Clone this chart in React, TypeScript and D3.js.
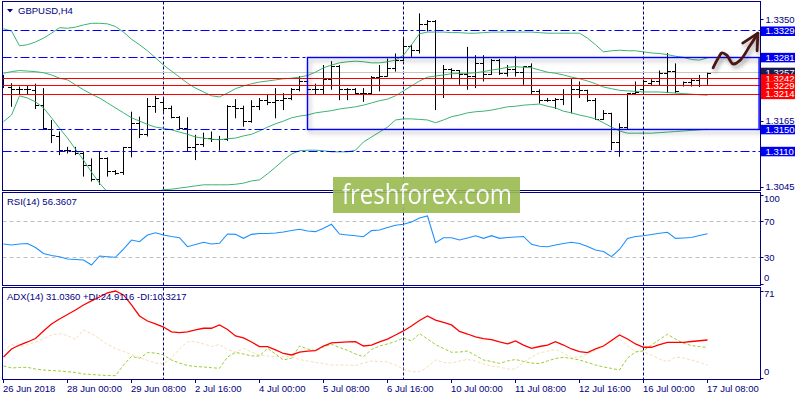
import React from 'react';
import * as d3 from 'd3';

// ---------- data ----------
const symbolTitle = 'GBPUSD,H4';
const rsiTitle = 'RSI(14) 56.3607';
const adxTitle = 'ADX(14) 31.0360 +DI:24.9116 -DI:10.3217';

const timeLabels = [
  '26 Jun 2018', '28 Jun 00:00', '29 Jun 08:00', '2 Jul 16:00', '4 Jul 00:00', '5 Jul 08:00',
  '6 Jul 16:00', '10 Jul 00:00', '11 Jul 08:00', '12 Jul 16:00', '16 Jul 00:00', '17 Jul 08:00',
];
const barsPerLabel = 8;
const weekSeparators = [20, 50, 80];

const open = [
  1.3240, 1.3227, 1.3222, 1.3223, 1.3220, 1.3194, 1.3150, 1.3137, 1.3111, 1.3110,
  1.3106, 1.3085, 1.3058, 1.3097, 1.3073, 1.3071, 1.3117, 1.3161, 1.3140, 1.3191,
  1.3198, 1.3188, 1.3172, 1.3152, 1.3116, 1.3122, 1.3134, 1.3131, 1.3131, 1.3191,
  1.3188, 1.3164, 1.3191, 1.3202, 1.3198, 1.3202, 1.3207, 1.3222, 1.3237, 1.3222,
  1.3223, 1.3240, 1.3264, 1.3222, 1.3222, 1.3216, 1.3216, 1.3245, 1.3247, 1.3261,
  1.3276, 1.3300, 1.3294, 1.3340, 1.3346, 1.3213, 1.3258, 1.3257, 1.3249, 1.3246,
  1.3269, 1.3250, 1.3275, 1.3251, 1.3258, 1.3253, 1.3264, 1.3219, 1.3202, 1.3202,
  1.3205, 1.3213, 1.3222, 1.3220, 1.3202, 1.3168, 1.3179, 1.3126, 1.3154, 1.3216,
  1.3222, 1.3233, 1.3237, 1.3252, 1.3255, 1.3230, 1.3235, 1.3239, 1.3243,
];
const high = [
  1.3249, 1.3234, 1.3228, 1.3229, 1.3233, 1.3225, 1.3167, 1.3146, 1.3118, 1.3118,
  1.3109, 1.3097, 1.3109, 1.3099, 1.3076, 1.3118, 1.3182, 1.3173, 1.3207, 1.3211,
  1.3207, 1.3193, 1.3174, 1.3172, 1.3140, 1.3144, 1.3146, 1.3138, 1.3194, 1.3205,
  1.3193, 1.3203, 1.3207, 1.3213, 1.3225, 1.3216, 1.3225, 1.3247, 1.3237, 1.3233,
  1.3267, 1.3274, 1.3267, 1.3225, 1.3225, 1.3225, 1.3247, 1.3267, 1.3279, 1.3288,
  1.3316, 1.3304, 1.3361, 1.3349, 1.3349, 1.3267, 1.3261, 1.3258, 1.3300, 1.3285,
  1.3285, 1.3278, 1.3278, 1.3267, 1.3283, 1.3264, 1.3270, 1.3223, 1.3207, 1.3207,
  1.3223, 1.3243, 1.3237, 1.3222, 1.3207, 1.3185, 1.3180, 1.3161, 1.3216, 1.3237,
  1.3240, 1.3241, 1.3257, 1.3289, 1.3270, 1.3237, 1.3243, 1.3249, 1.3253,
];
const low = [
  1.3225, 1.3191, 1.3213, 1.3213, 1.3187, 1.3150, 1.3125, 1.3103, 1.3106, 1.3103,
  1.3064, 1.3055, 1.3049, 1.3064, 1.3067, 1.3067, 1.3099, 1.3134, 1.3137, 1.3180,
  1.3182, 1.3170, 1.3149, 1.3109, 1.3094, 1.3118, 1.3127, 1.3111, 1.3129, 1.3170,
  1.3155, 1.3162, 1.3185, 1.3194, 1.3170, 1.3185, 1.3203, 1.3219, 1.3216, 1.3213,
  1.3213, 1.3222, 1.3203, 1.3203, 1.3213, 1.3200, 1.3213, 1.3219, 1.3246, 1.3255,
  1.3274, 1.3282, 1.3288, 1.3328, 1.3185, 1.3207, 1.3243, 1.3231, 1.3222, 1.3225,
  1.3237, 1.3249, 1.3249, 1.3246, 1.3246, 1.3231, 1.3213, 1.3197, 1.3200, 1.3187,
  1.3194, 1.3179, 1.3207, 1.3200, 1.3167, 1.3167, 1.3112, 1.3100, 1.3150, 1.3213,
  1.3217, 1.3229, 1.3229, 1.3216, 1.3216, 1.3228, 1.3228, 1.3227, 1.3231,
];
const close = [
  1.3229, 1.3222, 1.3223, 1.3222, 1.3194, 1.3152, 1.3138, 1.3112, 1.3112, 1.3106,
  1.3085, 1.3058, 1.3097, 1.3073, 1.3070, 1.3116, 1.3161, 1.3140, 1.3191, 1.3207,
  1.3188, 1.3172, 1.3152, 1.3116, 1.3122, 1.3134, 1.3131, 1.3131, 1.3191, 1.3188,
  1.3164, 1.3191, 1.3203, 1.3198, 1.3202, 1.3207, 1.3222, 1.3237, 1.3222, 1.3223,
  1.3240, 1.3264, 1.3222, 1.3222, 1.3216, 1.3216, 1.3245, 1.3247, 1.3261, 1.3276,
  1.3300, 1.3294, 1.3340, 1.3346, 1.3213, 1.3258, 1.3257, 1.3249, 1.3246, 1.3269,
  1.3250, 1.3275, 1.3251, 1.3258, 1.3253, 1.3264, 1.3219, 1.3202, 1.3202, 1.3205,
  1.3213, 1.3222, 1.3220, 1.3202, 1.3168, 1.3179, 1.3126, 1.3154, 1.3216, 1.3217,
  1.3237, 1.3237, 1.3252, 1.3255, 1.3219, 1.3235, 1.3239, 1.3243, 1.3252,
];

const bbUpper = [
  1.3333, 1.3329, 1.3302, 1.3304, 1.3309, 1.3316, 1.3325, 1.3335, 1.3334, 1.3336,
  1.3340, 1.3343, 1.3343, 1.3342, 1.3337, 1.3327, 1.3314, 1.3304, 1.3293, 1.3280,
  1.3267, 1.3256, 1.3245, 1.3234, 1.3225, 1.3218, 1.3211, 1.3209, 1.3216, 1.3224,
  1.3229, 1.3233, 1.3236, 1.3238, 1.3240, 1.3242, 1.3243, 1.3245, 1.3248, 1.3254,
  1.3262, 1.3267, 1.3271, 1.3273, 1.3274, 1.3273, 1.3271, 1.3271, 1.3273, 1.3276,
  1.3285, 1.3304, 1.3324, 1.3327, 1.3327, 1.3327, 1.3326, 1.3326, 1.3325, 1.3325,
  1.3326, 1.3327, 1.3327, 1.3327, 1.3327, 1.3327, 1.3327, 1.3326, 1.3325, 1.3325,
  1.3325, 1.3325, 1.3325, 1.3316, 1.3304, 1.3291, 1.3293, 1.3294, 1.3293, 1.3293,
  1.3291, 1.3289, 1.3288, 1.3286, 1.3283, 1.3281, 1.3277, 1.3276, 1.3280,
];
const bbMiddle = [
  1.3252, 1.3255, 1.3257, 1.3256, 1.3255, 1.3253, 1.3249, 1.3243, 1.3240, 1.3231,
  1.3222, 1.3214, 1.3207, 1.3198, 1.3189, 1.3180, 1.3171, 1.3165, 1.3159, 1.3154,
  1.3152, 1.3149, 1.3145, 1.3141, 1.3136, 1.3134, 1.3132, 1.3131, 1.3133, 1.3134,
  1.3138, 1.3141, 1.3147, 1.3154, 1.3160, 1.3165, 1.3171, 1.3174, 1.3176, 1.3180,
  1.3182, 1.3184, 1.3187, 1.3189, 1.3191, 1.3194, 1.3198, 1.3202, 1.3205, 1.3211,
  1.3220, 1.3229, 1.3238, 1.3245, 1.3247, 1.3249, 1.3251, 1.3252, 1.3252, 1.3253,
  1.3255, 1.3258, 1.3260, 1.3263, 1.3264, 1.3263, 1.3262, 1.3258, 1.3254, 1.3252,
  1.3249, 1.3245, 1.3242, 1.3238, 1.3233, 1.3227, 1.3224, 1.3221, 1.3220, 1.3219,
  1.3218, 1.3218, 1.3218, 1.3217, 1.3216, 1.3215, 1.3214, 1.3213, 1.3212,
];
const bbLower = [
  1.3164, 1.3176, 1.3211, 1.3207, 1.3200, 1.3189, 1.3171, 1.3152, 1.3134, 1.3114,
  1.3094, 1.3072, 1.3052, 1.3036, 1.3025, 1.3021, 1.3021, 1.3025, 1.3031, 1.3036,
  1.3040, 1.3041, 1.3043, 1.3045, 1.3047, 1.3049, 1.3049, 1.3049, 1.3049, 1.3050,
  1.3052, 1.3056, 1.3058, 1.3069, 1.3081, 1.3094, 1.3105, 1.3111, 1.3112, 1.3112,
  1.3111, 1.3109, 1.3109, 1.3109, 1.3112, 1.3127, 1.3136, 1.3145, 1.3154, 1.3167,
  1.3169, 1.3169, 1.3168, 1.3167, 1.3162, 1.3167, 1.3173, 1.3176, 1.3180, 1.3182,
  1.3183, 1.3185, 1.3188, 1.3191, 1.3192, 1.3194, 1.3195, 1.3196, 1.3192, 1.3189,
  1.3183, 1.3180, 1.3176, 1.3173, 1.3169, 1.3162, 1.3154, 1.3147, 1.3143, 1.3143,
  1.3143, 1.3143, 1.3144, 1.3145, 1.3146, 1.3147, 1.3148, 1.3149, 1.3150,
];

const rsi = [
  44.9, 43.8, 44.9, 45.5, 41.0, 34.3, 32.0, 30.7, 28.1, 27.5,
  27.0, 21.3, 31.5, 30.7, 30.0, 39.3, 49.4, 47.5, 55.1, 57.6,
  55.1, 53.4, 52.0, 41.9, 44.4, 46.9, 44.9, 45.7, 56.2, 55.8,
  51.3, 55.8, 56.7, 56.7, 57.3, 58.4, 60.1, 61.5, 59.6, 58.8,
  62.6, 67.1, 56.2, 55.1, 54.2, 53.1, 60.0, 60.7, 63.5, 66.0,
  67.1, 69.7, 74.2, 76.4, 46.4, 52.0, 52.0, 49.4, 51.7, 54.2,
  51.3, 54.3, 51.3, 52.2, 52.8, 53.4, 44.6, 42.4, 41.9, 43.8,
  45.5, 46.9, 45.5, 42.1, 38.2, 36.5, 30.7, 38.8, 51.1, 53.4,
  54.2, 55.6, 57.0, 58.1, 51.3, 51.7, 52.2, 54.5, 56.4,
];
const rsiLevels = [70, 30];
const rsiAxisLabels = [100, 70, 30, 0];

const adx = [
  17.1, 23.7, 26.9, 29.4, 32.2, 38.4, 44.1, 48.2, 51.8, 55.5,
  59.6, 62.9, 66.1, 69.4, 71.0, 67.8, 59.6, 50.6, 46.5, 44.1,
  41.6, 37.6, 37.0, 37.6, 39.2, 40.6, 40.6, 43.3, 39.6, 34.3,
  32.7, 29.4, 25.6, 25.6, 22.9, 20.0, 18.8, 21.2, 22.0, 22.4,
  26.1, 28.6, 29.0, 29.4, 29.6, 26.1, 26.9, 29.4, 31.8, 35.1,
  38.4, 42.4, 46.9, 50.6, 47.3, 45.3, 43.3, 38.0, 35.9, 33.5,
  32.2, 31.3, 29.4, 27.8, 30.2, 26.9, 24.2, 25.7, 26.9, 29.6,
  26.9, 23.7, 21.6, 20.7, 23.7, 26.1, 30.6, 35.1, 31.8, 27.8,
  25.1, 25.1, 27.3, 29.1, 29.1, 29.1, 29.8, 30.4, 31.0,
];
const plusDI = [
  9.8, 8.2, 8.6, 8.7, 7.3, 6.5, 6.1, 5.7, 5.1, 4.5,
  3.3, 2.9, 2.4, 2.0, 1.9, 10.6, 17.6, 16.1, 20.7, 20.4,
  18.8, 14.7, 12.2, 10.2, 9.4, 9.0, 8.4, 7.9, 17.1, 20.9,
  19.6, 18.0, 18.0, 24.2, 19.6, 14.7, 16.1, 26.1, 23.7, 22.3,
  25.3, 27.5, 24.9, 22.6, 19.6, 17.4, 23.3, 26.1, 27.8, 29.8,
  32.7, 30.2, 36.3, 31.8, 27.3, 24.1, 21.0, 21.2, 22.0, 18.4,
  14.7, 13.5, 12.0, 13.9, 15.1, 13.5, 12.2, 11.8, 13.9, 15.9,
  16.9, 15.9, 14.7, 12.7, 10.6, 9.0, 7.8, 6.5, 16.3, 21.2,
  22.3, 26.9, 31.4, 35.7, 31.8, 28.3, 26.5, 25.6, 24.9,
];
const minusDI = [
  22.0, 27.3, 25.7, 26.9, 29.4, 31.8, 35.1, 36.3, 34.7, 31.4,
  39.2, 36.3, 31.8, 27.3, 24.1, 21.6, 19.2, 16.7, 14.3, 12.2,
  11.4, 16.7, 23.7, 29.6, 29.6, 27.8, 25.7, 27.3, 23.3, 21.2,
  24.2, 21.2, 18.5, 18.0, 17.4, 17.4, 17.4, 15.1, 13.9, 12.7,
  11.8, 10.6, 10.6, 10.6, 10.2, 12.2, 13.9, 13.5, 13.1, 10.6,
  7.3, 5.1, 5.1, 9.0, 14.7, 12.7, 12.2, 13.9, 15.1, 13.9,
  11.4, 9.8, 9.0, 7.3, 7.3, 13.1, 17.1, 20.4, 22.0, 23.3,
  20.4, 16.7, 17.1, 19.6, 22.4, 26.1, 30.2, 32.2, 26.1, 21.5,
  21.5, 18.8, 15.5, 13.3, 17.1, 16.3, 14.7, 12.7, 10.6,
];
const adxAxisLabels = [71, 0];

const priceTicks = [1.3350, 1.3165, 1.3045];
const dashDotLevels = [1.3329, 1.3281, 1.3150, 1.3110];
const redLevels = [1.3242, 1.3214, 1.3229];
const bidPrice = 1.3254;
const bidLabel = '1.3257';
// rectangle object: [start bar, end bar (future), top price, bottom price]
const boxStartBar = 38;
const boxEndBar = 94.45;
const boxTop = 1.3281;
const boxBottom = 1.3150;
// hand-drawn arrow (bar index, price)
const arrowBars = [88.7, 89.4, 89.8, 90.4, 91.2, 92.1, 93.3, 94.3];
const arrowPrices = [1.3262, 1.3281, 1.3289, 1.3285, 1.3269, 1.3276, 1.3302, 1.3325];
const arrowHeadBars = [92.4, 94.3, 94.2];
const arrowHeadPrices = [1.3307, 1.3325, 1.3293];

// ---------- drawing ----------
const NAVY = '#000080';
const FONT = '"Liberation Sans", Arial, sans-serif';
const L = 2.5, R = 760.5;
const P1 = { top: 1.5, bottom: 190.5 };
const P2 = { top: 192.5, bottom: 285.5 };
const P3 = { top: 287.5, bottom: 379.5 };

const snap = (v: number) => Math.round(v - 0.5) + 0.5;

export default function App() {
  const n = close.length;
  const x = d3.scaleLinear().domain([0, 88]).range([3.5, 707.5]);
  const y = d3.scaleLinear().domain([1.3045, 1.3350]).range([187.0, 19.45]);
  const yR = d3.scaleLinear().domain([0, 100]).range([284, 195]);
  const yA = d3.scaleLinear().domain([0, 71]).range([378, 291]);

  const mkLine = (sc: d3.ScaleLinear<number, number>) =>
    d3.line<number>().x((_, i) => x(i)).y((d) => sc(d));
  const priceLine = mkLine(y);
  const rsiLine = mkLine(yR);
  const adxLine = mkLine(yA);

  const barsPath = d3.range(n).map((i) => {
    const xi = snap(x(i));
    const yo = snap(y(open[i]));
    const yc = snap(y(close[i]));
    return `M${xi},${y(high[i]).toFixed(1)}V${y(low[i]).toFixed(1)}M${xi - 3.5},${yo}H${xi}M${xi},${yc}H${xi + 3.5}`;
  }).join('');

  const clampLbl = (v: number, p: { top: number; bottom: number }) =>
    Math.max(p.top + 6.5, Math.min(p.bottom - 7.5, v));

  const arrowPts: [number, number][] = arrowBars.map((b, i) => [x(b), y(arrowPrices[i])]);
  const arrowPath = d3.line().curve(d3.curveCatmullRom.alpha(0.5))(arrowPts) || '';
  const headPath = d3.line()(arrowHeadBars.map((b, i) => [x(b), y(arrowHeadPrices[i])] as [number, number])) || '';

  const boxLabel = (price: number, text: string, fill: string, key: string) => (
    <g key={key}>
      <rect x={761} y={y(price) - 4.5} width={34} height={9.5} fill={fill} />
      <text x={765.5} y={y(price)} dy="0.35em" fill="#fff" fontSize={9.5} fontFamily={FONT}>{text}</text>
    </g>
  );

  const txt = { fontSize: 9.5, fontFamily: FONT, fill: NAVY } as const;

  return (
    <svg width={800} height={400} style={{ position: 'fixed', left: 0, top: 0, background: '#fff' }}>
      <defs>
        <clipPath id="c1"><rect x={L} y={P1.top} width={R - L} height={P1.bottom - P1.top} /></clipPath>
        <clipPath id="c2"><rect x={L} y={P2.top} width={R - L} height={P2.bottom - P2.top} /></clipPath>
        <clipPath id="c3"><rect x={L} y={P3.top} width={R - L} height={P3.bottom - P3.top} /></clipPath>
        <filter id="shadow" x="-5%" y="-30%" width="115%" height="170%">
          <feDropShadow dx="2" dy="3" stdDeviation="2" floodColor="#000" floodOpacity="0.35" />
        </filter>
      </defs>
      <rect x={0} y={0} width={800} height={400} fill="#fff" />

      {/* ---------- main panel ---------- */}
      <g clipPath="url(#c1)">
        {weekSeparators.map((b) => (
          <line key={b} x1={snap(x(b))} x2={snap(x(b))} y1={P1.top} y2={P1.bottom} stroke={NAVY} strokeDasharray="3,2" />
        ))}
        <line x1={L} x2={R} y1={snap(y(bidPrice))} y2={snap(y(bidPrice))} stroke="#c8c8c8" />
        <path d={barsPath} stroke="#000" strokeWidth={1} fill="none" />
        {[bbUpper, bbMiddle, bbLower].map((s, k) => (
          <path key={k} d={priceLine(s) || ''} fill="none" stroke="#3cb371" strokeWidth={1} />
        ))}
        {dashDotLevels.map((p) => (
          <line key={p} x1={L} x2={R} y1={snap(y(p))} y2={snap(y(p))} stroke="#0000ff" strokeDasharray="9,3,3,3" />
        ))}
        {redLevels.map((p) => (
          <line key={p} x1={L} x2={R} y1={snap(y(p))} y2={snap(y(p))} stroke="#ff0000" strokeWidth={1.2} />
        ))}
        <rect x={snap(x(boxStartBar))} y={snap(y(boxTop))} width={x(boxEndBar) - x(boxStartBar)}
          height={y(boxBottom) - y(boxTop)} fill="none" stroke="#0000ff" strokeWidth={1.4} filter="url(#shadow)" />
        <g filter="url(#shadow)">
          <path d={arrowPath} fill="none" stroke="#4a1414" strokeWidth={2.8} strokeLinecap="round" strokeLinejoin="round" />
          <path d={headPath} fill="none" stroke="#4a1414" strokeWidth={2.8} strokeLinecap="round" strokeLinejoin="round" />
        </g>
      </g>
      <polygon points="7,9 13,9 10,12.5" fill={NAVY} />
      <text x={18} y={14} {...txt}>{symbolTitle}</text>

      {/* price axis */}
      {priceTicks.map((p) => (
        <g key={p}>
          <line x1={R} x2={R + 3} y1={snap(y(p))} y2={snap(y(p))} stroke={NAVY} />
          <text x={765.5} y={y(p)} dy="0.35em" {...txt}>{p.toFixed(4)}</text>
        </g>
      ))}
      {boxLabel(bidPrice, bidLabel, '#1c1c50', 'bid')}
      {dashDotLevels.map((p) => boxLabel(p, p.toFixed(4), '#0000f0', 'b' + p))}
      {redLevels.map((p) => boxLabel(p, p.toFixed(4), '#ff0000', 'r' + p))}

      {/* ---------- RSI panel ---------- */}
      <g clipPath="url(#c2)">
        {weekSeparators.map((b) => (
          <line key={b} x1={snap(x(b))} x2={snap(x(b))} y1={P2.top} y2={P2.bottom} stroke={NAVY} strokeDasharray="3,2" />
        ))}
        {rsiLevels.map((v) => (
          <line key={v} x1={L} x2={R} y1={snap(yR(v))} y2={snap(yR(v))} stroke="#c0c0c0" strokeDasharray="4,3" />
        ))}
        <path d={rsiLine(rsi) || ''} fill="none" stroke="#1e90ff" strokeWidth={1.1} />
      </g>
      <text x={7} y={205} {...txt}>{rsiTitle}</text>
      {rsiAxisLabels.map((v) => (
        <g key={v}>
          <line x1={R} x2={R + 3} y1={snap(yR(v))} y2={snap(yR(v))} stroke={NAVY} />
          <text x={764} y={clampLbl(yR(v), P2)} dy="0.35em" {...txt}>{v}</text>
        </g>
      ))}

      {/* ---------- ADX panel ---------- */}
      <g clipPath="url(#c3)">
        {weekSeparators.map((b) => (
          <line key={b} x1={snap(x(b))} x2={snap(x(b))} y1={P3.top} y2={P3.bottom} stroke={NAVY} strokeDasharray="3,2" />
        ))}
        <path d={adxLine(minusDI) || ''} fill="none" stroke="#f5deb3" strokeWidth={1} strokeDasharray="3,2" />
        <path d={adxLine(plusDI) || ''} fill="none" stroke="#9acd32" strokeWidth={1} strokeDasharray="3,2" />
        <path d={adxLine(adx) || ''} fill="none" stroke="#ff0000" strokeWidth={1.3} />
      </g>
      <text x={7} y={299.5} {...txt}>{adxTitle}</text>
      {adxAxisLabels.map((v) => (
        <g key={v}>
          <line x1={R} x2={R + 3} y1={snap(yA(v))} y2={snap(yA(v))} stroke={NAVY} />
          <text x={764} y={clampLbl(yA(v), P3)} dy="0.35em" {...txt}>{v}</text>
        </g>
      ))}

      {/* ---------- panel frames ---------- */}
      {[P1, P2, P3].map((p, i) => (
        <rect key={i} x={L} y={p.top} width={R - L} height={p.bottom - p.top} fill="none" stroke={NAVY} strokeWidth={1} />
      ))}

      {/* ---------- time axis ---------- */}
      {timeLabels.map((t, j) => {
        const xi = snap(x(j * barsPerLabel));
        return (
          <g key={t}>
            <line x1={xi} x2={xi} y1={P3.bottom} y2={P3.bottom + 3.5} stroke={NAVY} />
            <text x={xi - 0.5} y={392} {...txt}>{t}</text>
          </g>
        );
      })}

      {/* ---------- watermark ---------- */}
      <g opacity={0.9}>
        <rect x={333} y={177} width={187} height={36} fill="#9bbb50" />
        <text x={342} y={204} fill="#fff" fontSize={28} fontFamily='"Open Sans", "DejaVu Sans", sans-serif'
          textLength={170} lengthAdjust="spacingAndGlyphs">freshforex.com</text>
      </g>
    </svg>
  );
}
